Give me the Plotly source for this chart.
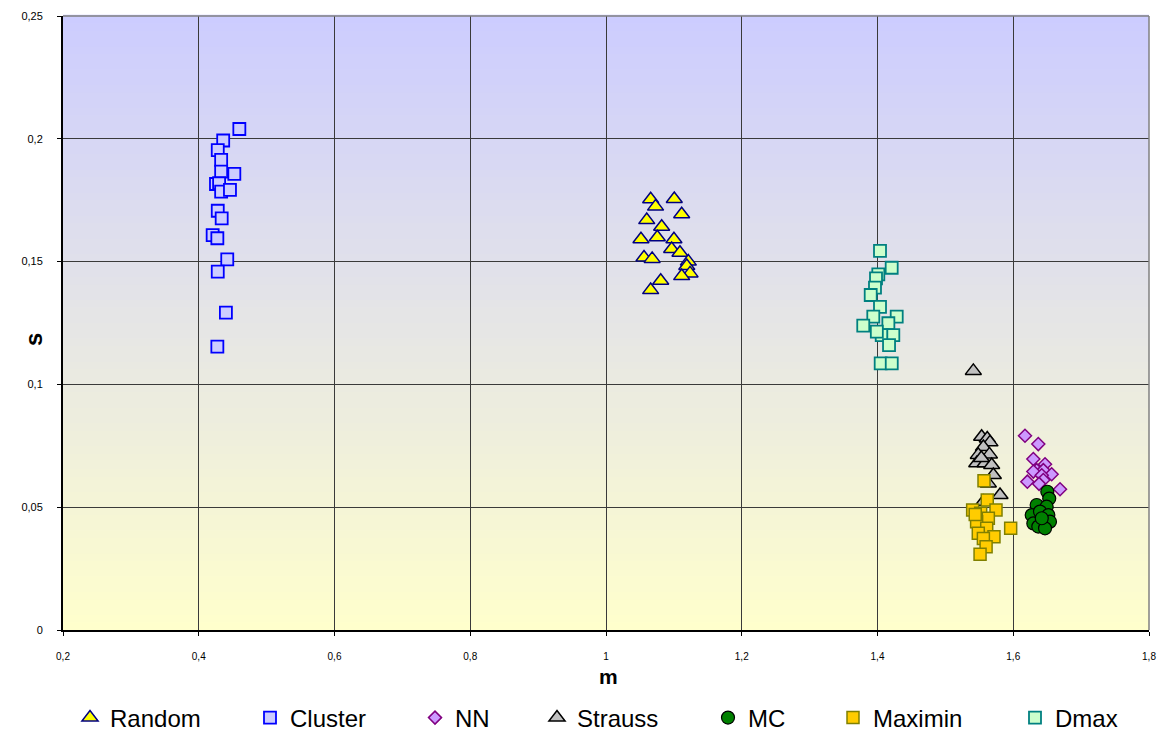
import plotly.graph_objects as go

# ---------------- data ----------------
random_m = [1.0658, 1.1006, 1.073, 1.1115, 1.06, 1.082, 1.0756, 1.0515, 1.1001, 1.0967,
            1.109, 1.056, 1.068, 1.1213, 1.119, 1.1238, 1.1115, 1.0806, 1.0658]
random_s = [0.1754, 0.1755, 0.1724, 0.1693, 0.1669, 0.1642, 0.1599, 0.1591, 0.1591, 0.1551,
            0.1536, 0.1517, 0.1511, 0.150, 0.1482, 0.1452, 0.1441, 0.1422, 0.1384]

cluster_m = [0.4598, 0.436, 0.428, 0.433, 0.433, 0.4524, 0.4254, 0.430, 0.433, 0.446,
             0.428, 0.4338, 0.4205, 0.4274, 0.442, 0.428, 0.440, 0.4274]
cluster_s = [0.204, 0.1993, 0.1954, 0.1914, 0.1866, 0.1857, 0.1816, 0.1819, 0.1785, 0.1792,
             0.1707, 0.1676, 0.1608, 0.1595, 0.1509, 0.1459, 0.1292, 0.1154]

nn_m = [1.6173, 1.6369, 1.6296, 1.6468, 1.6345, 1.6443, 1.6566, 1.6296, 1.642, 1.6443,
        1.6208, 1.6689, 1.638]
nn_s = [0.0791, 0.0757, 0.0696, 0.0675, 0.0651, 0.0651, 0.0634, 0.0645, 0.063, 0.0611,
        0.0604, 0.0573, 0.0595]

strauss_m = [1.5412, 1.5534, 1.5617, 1.5657, 1.5560, 1.5485, 1.5649, 1.5462, 1.5584, 1.5682,
             1.5707, 1.5633, 1.5805, 1.556, 1.5530]
strauss_s = [0.1055, 0.0787, 0.078, 0.0764, 0.0745, 0.0713, 0.0715, 0.0679, 0.0679, 0.0672,
             0.0631, 0.0597, 0.055, 0.0522, 0.0700]

mc_m = [1.6502, 1.6530, 1.6345, 1.6492, 1.6272, 1.6394, 1.6517, 1.6296, 1.6443, 1.6541,
        1.6369, 1.6468, 1.6420]
mc_s = [0.0563, 0.0535, 0.0509, 0.0502, 0.0468, 0.0482, 0.0468, 0.0434, 0.0434, 0.0441,
        0.0421, 0.0414, 0.0455]

maximin_m = [1.5569, 1.5617, 1.5402, 1.5746, 1.552, 1.5633, 1.546, 1.5962, 1.5609, 1.5485,
             1.5716, 1.556, 1.56, 1.5511, 1.5440]
maximin_s = [0.0608, 0.0529, 0.0489, 0.0489, 0.0475, 0.0455, 0.0441, 0.0414, 0.0414, 0.0394,
             0.038, 0.0373, 0.0339, 0.0308, 0.0470]

dmax_m = [1.4037, 1.4209, 1.4012, 1.3978, 1.3963, 1.3900, 1.4037, 1.3938, 1.4283, 1.379,
          1.416, 1.4062, 1.4233, 1.417, 1.4047, 1.421, 1.399]
dmax_s = [0.1544, 0.1475, 0.1448, 0.1432, 0.1394, 0.1364, 0.1316, 0.1276, 0.1276, 0.1239,
          0.1249, 0.1201, 0.1201, 0.116, 0.1086, 0.1086, 0.1215]

x_ticks = [0.2, 0.4, 0.6, 0.8, 1.0, 1.2, 1.4, 1.6, 1.8]
y_ticks = [0, 0.05, 0.1, 0.15, 0.2, 0.25]

# ---------------- styles ----------------
series = [
    ("Random", random_m, random_s, "triangle-up", 14, "#FFFF00", "#000080", 1.5),
    ("Cluster", cluster_m, cluster_s, "square", 12, "#CCCCFF", "#0000FF", 1.8),
    ("NN", nn_m, nn_s, "diamond", 10, "#CC99FF", "#800080", 1.5),
    ("Strauss", strauss_m, strauss_s, "triangle-up", 14, "#C0C0C0", "#000000", 1.5),
    ("MC", mc_m, mc_s, "circle", 13, "#008000", "#000000", 1.2),
    ("Maximin", maximin_m, maximin_s, "square", 12, "#FFCC00", "#808000", 1.5),
    ("Dmax", dmax_m, dmax_s, "square", 12, "#CCFFCC", "#008080", 1.8),
]
legend_text_px = [112, 292, 457, 579, 750, 875, 1057]

L, R, T, B = 63, 1149, 16, 630
W, H = 1168, 734
pw = R - L
ph = B - T

fig = go.Figure()
for i in range(len(series)):
    name, xs, ys, sym, size, fill, line, lw = series[i]
    lg = "legend" if i == 0 else f"legend{i+1}"
    fig.add_trace(go.Scatter(
        x=xs, y=ys, mode="markers", name=name, legend=lg, showlegend=True,
        marker=dict(symbol=sym, size=size, color=fill, line=dict(color=line, width=lw)),
    ))

# gradient background strips
shapes = []
n = 80
c_bot = (255, 255, 204)
c_top = (204, 204, 255)
for j in range(n):
    t = (j + 0.5) / n
    c = tuple(round(c_bot[q] + (c_top[q] - c_bot[q]) * t) for q in range(3))
    shapes.append(dict(type="rect", xref="x domain", yref="y domain",
                       x0=0, x1=1, y0=j / n, y1=(j + 1) / n + 0.002,
                       fillcolor="rgb(%d,%d,%d)" % c, line=dict(width=0), layer="below"))
# grey border top/right
shapes.append(dict(type="line", xref="x domain", yref="y domain", x0=0, x1=1, y0=1, y1=1,
                   line=dict(color="#808080", width=1.5), layer="above"))
shapes.append(dict(type="line", xref="x domain", yref="y domain", x0=1, x1=1, y0=0, y1=1,
                   line=dict(color="#808080", width=1.5), layer="above"))

legends = {}
for i, tx in enumerate(legend_text_px):
    key = "legend" if i == 0 else f"legend{i+1}"
    legends[key] = dict(
        x=(tx - 42 - L) / pw, y=(B - 718) / ph, xanchor="left", yanchor="middle",
        orientation="h", bgcolor="rgba(0,0,0,0)",
        font=dict(family="Arial, Liberation Sans", size=24, color="#000000"),
        itemwidth=30, visible=True,
    )

fig.update_layout(
    width=W, height=H,
    margin=dict(l=L, r=W - R, t=T, b=H - B, autoexpand=False),
    paper_bgcolor="#FFFFFF",
    plot_bgcolor="#E6E6E6",
    separators=", ",
    showlegend=True,
    shapes=shapes,
    font=dict(family="Arial, Liberation Sans", color="#000000"),
    xaxis=dict(
        range=[0.2, 1.8], tickvals=x_ticks, showgrid=True, gridcolor="#3A3A3A", gridwidth=1,
        zeroline=False, showline=True, linecolor="#000000", linewidth=2,
        ticks="outside", ticklen=4, tickcolor="#000000", automargin=False,
        tickfont=dict(size=10), ticklabelstandoff=12,
    ),
    yaxis=dict(
        range=[0, 0.25], tickvals=y_ticks, showgrid=True, gridcolor="#3A3A3A", gridwidth=1,
        zeroline=False, showline=True, linecolor="#000000", linewidth=2,
        ticks="outside", ticklen=4, tickcolor="#000000", automargin=False,
        tickfont=dict(size=11), ticklabelstandoff=12,
    ),
    annotations=[
        dict(text="<b>s</b>", textangle=-90, xref="paper", yref="paper",
             x=(33 - L) / pw, y=(B - 340) / ph, xanchor="center", yanchor="middle",
             showarrow=False, font=dict(size=24, color="#000000")),
        dict(text="<b>m</b>", xref="paper", yref="paper",
             x=(608 - L) / pw, y=(B - 676) / ph, xanchor="center", yanchor="middle",
             showarrow=False, font=dict(size=21, color="#000000")),
    ],
    **legends,
)

fig.write_html("out.html", config={"displayModeBar": False},
               post_script="document.body.style.margin='0';")
